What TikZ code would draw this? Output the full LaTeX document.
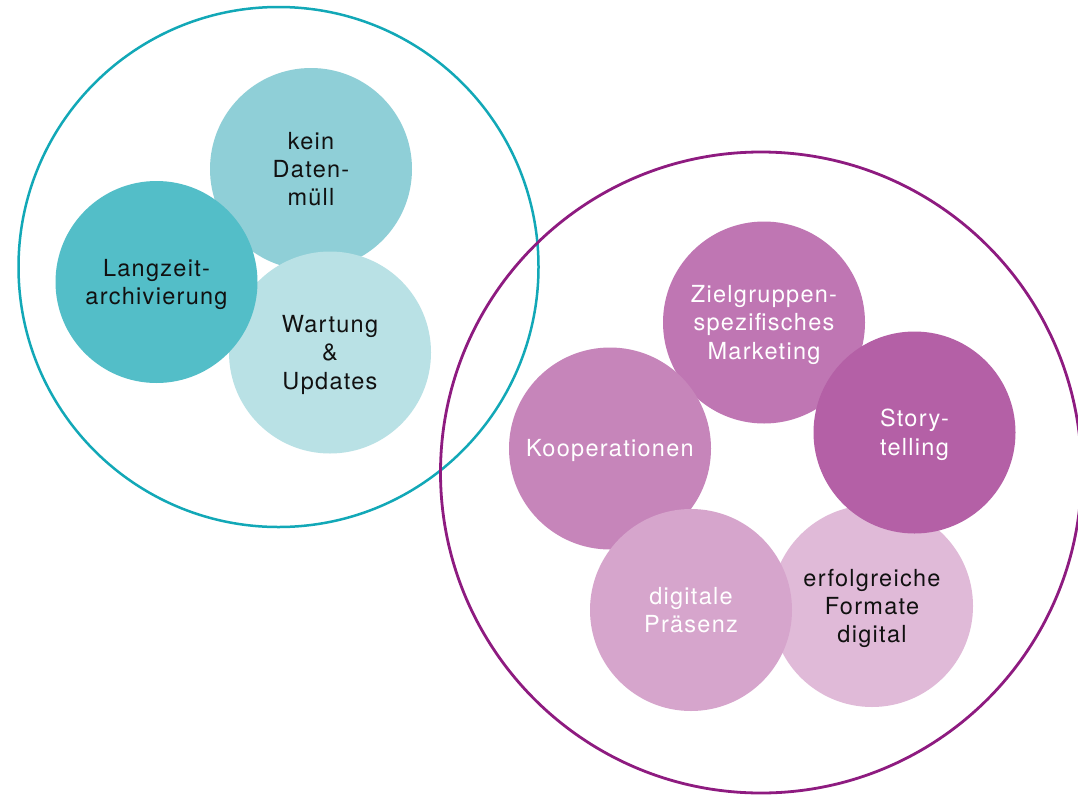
\documentclass[tikz,border=0pt]{standalone}
\usepackage{fontspec}
\setmainfont{TeX Gyre Heros}[LetterSpace=5.5]
\definecolor{tealring}{HTML}{12A8B7}
\definecolor{purplering}{HTML}{8E1B80}
\definecolor{tealA}{HTML}{8FCFD7}
\definecolor{tealB}{HTML}{53BEC8}
\definecolor{tealC}{HTML}{B9E1E5}
\definecolor{purA}{HTML}{BF76B3}
\definecolor{purB}{HTML}{B460A6}
\definecolor{purC}{HTML}{C685BA}
\definecolor{purD}{HTML}{D6A5CC}
\definecolor{purE}{HTML}{E0BAD8}
\definecolor{txtdark}{HTML}{111111}
\newcommand\bstrut{\rule[-5.2pt]{0pt}{27.2pt}}
\tikzset{
  bubble/.style={circle, minimum size=202pt, inner sep=0pt, align=center,
    font=\fontsize{23.5}{28.3}\selectfont},
  ring/.style={circle, inner sep=0pt, draw, fill=none}
}
\begin{document}
\begin{tikzpicture}[x=1pt, y=-1pt]
  \fill[white] (0,0) rectangle (1078,795);
  \useasboundingbox (0,0) rectangle (1078,795);
  \clip (0,0) rectangle (1078,795);
  % outer rings
  \node (leftring) [ring, draw=tealring, line width=2.5pt, minimum size=520pt] at (278.5,267) {};
  \node (rightring) [ring, draw=purplering, line width=2.8pt, minimum size=641pt] at (761,472.5) {};
  % left group
  \node (kein) [bubble, fill=tealA, text=txtdark] at (311,169) {\bstrut kein\\\bstrut Daten-\\\bstrut müll};
  \node (wartung) [bubble, fill=tealC, text=txtdark] at (330,352.5) {\bstrut Wartung\\\bstrut \&\\\bstrut Updates};
  \node (langzeit) [bubble, fill=tealB, text=txtdark] at (156.5,282) {\bstrut Langzeit-\\\bstrut archivierung};
  % right group
  \node (ziel) [bubble, fill=purA, text=white] at (764,322.5) {\bstrut Zielgruppen-\\\bstrut spezifisches\\\bstrut Marketing};
  \node (koop) [bubble, fill=purC, text=white] at (610,448.5) {\bstrut Kooperationen};
  \node (erfolg) [bubble, fill=purE, text=txtdark] at (872,606) {\bstrut erfolgreiche\\\bstrut Formate\\\bstrut digital};
  \node (digital) [bubble, fill=purD, text=white] at (691,610) {\bstrut digitale\\\bstrut Präsenz};
  \node (story) [bubble, fill=purB, text=white] at (914.5,432.5) {\bstrut Story-\\\bstrut telling};
\end{tikzpicture}
\end{document}
